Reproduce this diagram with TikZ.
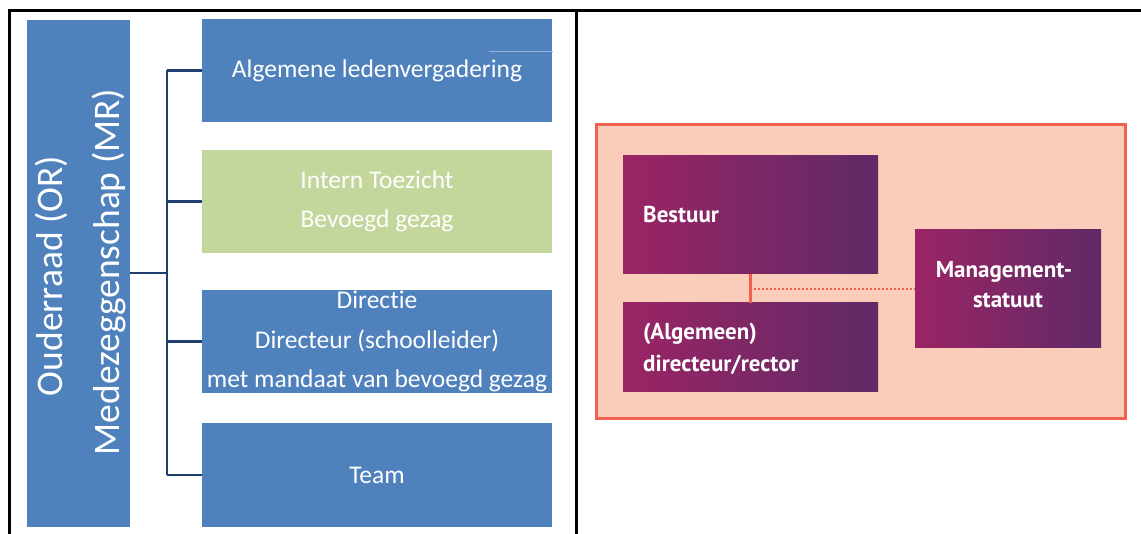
\documentclass[tikz,border=0pt]{standalone}
\usepackage{fontspec}
\setmainfont{Carlito}[Ligatures={NoCommon,NoRare,NoContextual}]
\newfontfamily\rfont{PT Sans}
\definecolor{obblue}{HTML}{4F81BD}
\definecolor{obgreen}{HTML}{C3D69B}
\definecolor{navy}{HTML}{1F3F6E}
\definecolor{mag}{HTML}{9B2465}
\definecolor{pur}{HTML}{5F2A66}
\definecolor{peach}{HTML}{F9CDB9}
\definecolor{coral}{HTML}{F0604F}
\begin{document}
\begin{tikzpicture}[x=1pt,y=-1pt,
  bluebox/.style={draw=none,fill=obblue,minimum width=350pt,minimum height=103pt,inner sep=0pt,text=white,align=center,font=\fontsize{25.5}{39.5}\selectfont},
  greenbox/.style={bluebox,fill=obgreen},
  conn/.style={draw=navy,line width=2.4pt},
  vtext/.style={rotate=90,anchor=base,text=white,inner sep=0pt,font=\fontsize{37.5}{45}\selectfont},
  gradbox/.style={draw=none,left color=mag,right color=pur,inner sep=0pt},
  rtext/.style={text=white,inner sep=0pt,font=\rfont\bfseries\fontsize{23}{31}\selectfont},
  rconn/.style={draw=coral,line width=3pt},
  frameline/.style={draw=black,line width=3pt}]
\useasboundingbox (0,0) rectangle (1141,534);
\fill[white] (0,0) rectangle (1141,534);
% frame
\draw[frameline] (8,10.5) -- (1141,10.5);
\draw[frameline] (9.5,9) -- (9.5,534);
\draw[frameline] (576.5,9) -- (576.5,534);
% left panel
\node[draw=none,fill=obblue,minimum width=103pt,minimum height=507pt,inner sep=0pt] (or) at (78.5,273.5) {};
\node[vtext] (ortxt) at (62,276) {Ouderraad (OR)};
\node[vtext] (mrtxt) at (119,272) {Medezeggenschap (MR)};
\node[bluebox] (alv) at (377,70.5) {Algemene ledenvergadering};
\node[greenbox] (it) at (377,201.5) {Intern Toezicht\\Bevoegd gezag};
\node[bluebox] (dir) at (377,341.5) {Direct\kern0pt ie\\Directeur (schoolleider)\\met mandaat van bevoegd gezag};
\node[bluebox] (team) at (377,475) {Team};
\draw[obblue!60,line width=0.7pt] (489,51) -- (553,51);
\coordinate (bt) at (167,70.5);
\coordinate (bb) at (167,475);
\draw[conn] (or.east |- 0,273) -- (bt |- 0,273);
\draw[conn] (bt) -- (bb);
\draw[conn] (bt) -- (alv.west);
\draw[conn] (it.west -| bt) -- (it.west);
\draw[conn] (dir.west -| bt) -- (dir.west);
\draw[conn] (bb) -- (team.west);
% right panel
\node[draw=coral,line width=3pt,fill=peach,minimum width=529pt,minimum height=294pt,inner sep=0pt] (frame) at (860.5,271.5) {};
\node[gradbox,minimum width=255pt,minimum height=118pt] (bes) at (750.5,215) {};
\node[gradbox,minimum width=255pt,minimum height=89pt] (alg) at (750.5,347.5) {};
\node[gradbox,minimum width=186pt,minimum height=118pt] (mgmt) at (1008,289) {};
\node[rtext,anchor=base west] (bestxt) at (643,223) {Bestuur};
\node[rtext,anchor=base west] (algtxt1) at (643,340) {(Algemeen)};
\node[rtext,anchor=base west] (algtxt2) at (643,372) {directeur/rector};
\node[rtext,anchor=base] (mgtxt1) at (1004,278) {Management-};
\node[rtext,anchor=base] (mgtxt2) at (1008,308) {statuut};
\coordinate (mid) at (750.5,289);
\draw[rconn] (bes.south) -- (alg.north);
\draw[draw=coral,line width=2.5pt,dash pattern=on 2pt off 2pt] (mid) ++(3,0) -- (mgmt.west);
\end{tikzpicture}
\end{document}
